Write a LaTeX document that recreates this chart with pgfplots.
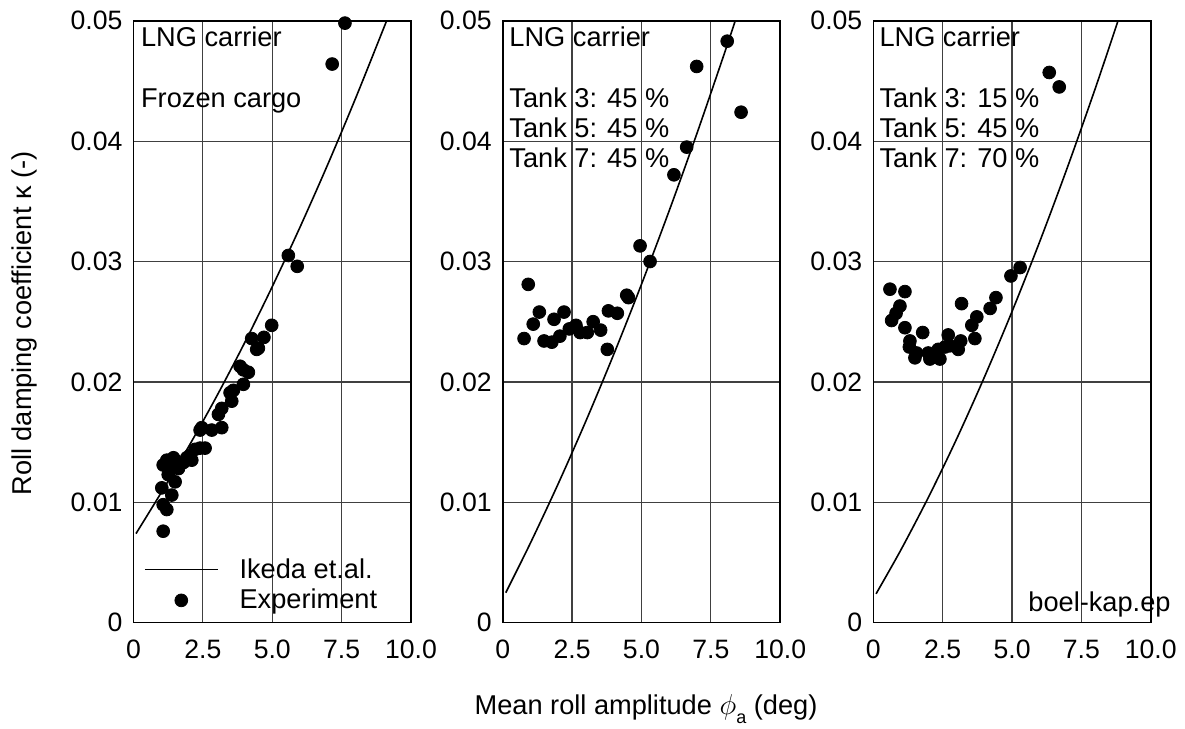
\documentclass[border=0pt]{standalone}
\usepackage{fontspec}
\setmainfont{Liberation Sans}
\usepackage{pgfplots}
\pgfplotsset{compat=1.18}
\newcommand{\annfont}{\fontsize{13.6}{16}\selectfont}
\pgfplotsset{
  panel/.style={
    width=138.75pt, height=301pt, scale only axis,
    xmin=0, xmax=10, ymin=0, ymax=0.05,
    xtick={0,2.5,5,7.5,10}, xticklabels={0,2.5,5.0,7.5,10.0},
    ytick={0,0.01,0.02,0.03,0.04,0.05}, yticklabels={0,0.01,0.02,0.03,0.04,0.05},
    scaled y ticks=false, scaled x ticks=false,
    grid=major, major grid style={black!75, line width=0.6pt},
    axis line style={line width=0.8pt},
    major tick length=0pt,
    tick label style={font=\fontsize{13.3}{15}\selectfont},
    xticklabel style={yshift=-5pt},
    yticklabel style={xshift=-2pt},
    clip=false,
    anchor=south west,
  },
  ikeda/.style={black, line width=0.8pt, no marks, smooth,
    legend image code/.code={\draw[##1] (0pt,0pt) -- (36.5pt,0pt);}},
  expt/.style={only marks, mark=*, mark size=3.2pt, black,
    legend image code/.code={\draw[mark repeat=2,mark phase=2,##1] plot coordinates {(0pt,0pt) (18.25pt,0pt) (36.5pt,0pt)};}},
}
\begin{document}
\begin{tikzpicture}
\useasboundingbox (0,0) rectangle (592.5pt,364.5pt);

% ---------------- Panel 1 ----------------
\begin{axis}[panel, at={(66.75pt,53.15pt)},
  legend style={draw=none, fill=none, inner sep=0pt, outer sep=0pt,
    at={(axis cs:0.378,0.00313)}, anchor=west,
    column sep=10.5pt, row sep=4pt,
    nodes={inner sep=0pt, font=\annfont}},
  legend cell align=left]
\addplot[ikeda] coordinates {(0.09,0.0074)(1,0.01081)(2,0.01468)(3,0.01882)(4,0.02323)(5,0.02791)(6,0.03285)(7,0.03806)(8,0.04354)(9,0.04929)(9.12,0.05)};
\addlegendentry{Ikeda et.al.}
\addplot[expt] table {
x y
7.62 0.0498
7.16 0.0464
5.58 0.0305
5.90 0.0296
4.98 0.0247
4.70 0.0237
4.26 0.0236
4.50 0.0228
4.44 0.0227
3.96 0.0210
4.14 0.0208
3.84 0.0213
3.96 0.0198
3.48 0.0191
3.60 0.0193
3.54 0.0184
3.18 0.0178
3.06 0.0173
2.46 0.0162
2.40 0.0160
2.82 0.0160
3.18 0.0162
2.58 0.0145
2.40 0.0145
2.22 0.0144
2.04 0.0139
1.92 0.0137
2.10 0.0135
1.80 0.0133
1.68 0.0132
1.20 0.0135
1.44 0.0137
1.07 0.0131
1.32 0.0127
1.62 0.0128
1.25 0.0123
1.50 0.0117
1.02 0.0112
1.38 0.0106
1.07 0.0098
1.20 0.0094
1.07 0.0076
};
\addlegendentry{Experiment}
\node[anchor=base west, inner sep=0pt, font=\annfont] at (axis cs:0.26,0.04788) {LNG carrier};
\node[anchor=base west, inner sep=0pt, font=\annfont] at (axis cs:0.26,0.04276) {Frozen cargo};
\end{axis}

% ---------------- Panel 2 ----------------
\begin{axis}[panel, at={(251.35pt,53.15pt)}]
\addplot[ikeda] coordinates {(0.11,0.00249)(1,0.00662)(2,0.01154)(3,0.01676)(4,0.02228)(5,0.0281)(6,0.03422)(7,0.04064)(8,0.04736)(8.38,0.05)};
\addplot[expt] table {
x y
0.77 0.0236
0.92 0.0281
1.10 0.0248
1.32 0.0258
1.49 0.0234
1.77 0.0233
1.85 0.0252
2.06 0.0238
2.21 0.0258
2.40 0.0244
2.64 0.0247
2.79 0.0241
3.05 0.0241
3.26 0.0250
3.53 0.0243
3.77 0.0227
3.81 0.0259
4.13 0.0257
4.47 0.0272
4.53 0.0270
4.95 0.0313
5.31 0.0300
6.17 0.0372
6.63 0.0395
6.99 0.0462
8.09 0.0483
8.59 0.0424
};
\node[anchor=base west, inner sep=0pt, font=\annfont] at (axis cs:0.23,0.04788) {LNG carrier};
\node[anchor=base west, inner sep=0pt, font=\annfont] at (axis cs:0.23,0.04276) {Tank 3: 45 \%};
\node[anchor=base west, inner sep=0pt, font=\annfont] at (axis cs:0.23,0.04032) {Tank 5: 45 \%};
\node[anchor=base west, inner sep=0pt, font=\annfont] at (axis cs:0.23,0.03777) {Tank 7: 45 \%};
\end{axis}

% ---------------- Panel 3 ----------------
\begin{axis}[panel, at={(436.65pt,53.15pt)}]
\addplot[ikeda] coordinates {(0.1,0.0024)(1,0.00607)(2,0.01048)(3,0.01525)(4,0.02038)(5,0.02585)(6,0.03167)(7,0.03785)(8,0.04438)(8.82,0.05)};
\addplot[expt] table {
x y
0.60 0.0277
0.66 0.0251
0.82 0.0257
0.96 0.0263
1.14 0.0275
1.14 0.0245
1.32 0.0234
1.30 0.0229
1.50 0.0220
1.56 0.0224
1.78 0.0241
1.98 0.0224
2.04 0.0219
2.34 0.0227
2.40 0.0219
2.58 0.0229
2.70 0.0239
2.76 0.0230
3.06 0.0227
3.15 0.0234
3.18 0.0265
3.55 0.0247
3.66 0.0236
3.73 0.0254
4.21 0.0261
4.42 0.0270
4.96 0.0288
5.29 0.0295
6.34 0.0457
6.70 0.0445
};
\node[anchor=base west, inner sep=0pt, font=\annfont] at (axis cs:0.21,0.04788) {LNG carrier};
\node[anchor=base west, inner sep=0pt, font=\annfont] at (axis cs:0.21,0.04276) {Tank 3: 15 \%};
\node[anchor=base west, inner sep=0pt, font=\annfont] at (axis cs:0.21,0.04032) {Tank 5: 45 \%};
\node[anchor=base west, inner sep=0pt, font=\annfont] at (axis cs:0.21,0.03777) {Tank 7: 70 \%};
\node[anchor=base west, inner sep=0pt, font=\annfont] at (axis cs:5.575,0.00091) {boel-kap.ep};
\end{axis}

% axis labels
\node[rotate=90, anchor=base, inner sep=0pt, font=\annfont] at (16pt,202.75pt) {Roll damping coefficient κ (-)};
\node[anchor=base, inner sep=0pt, font=\annfont] at (323pt,7pt) {Mean roll amplitude $\phi$\raisebox{-4.5pt}{\fontsize{9}{9}\selectfont a} (deg)};
\end{tikzpicture}
\end{document}
